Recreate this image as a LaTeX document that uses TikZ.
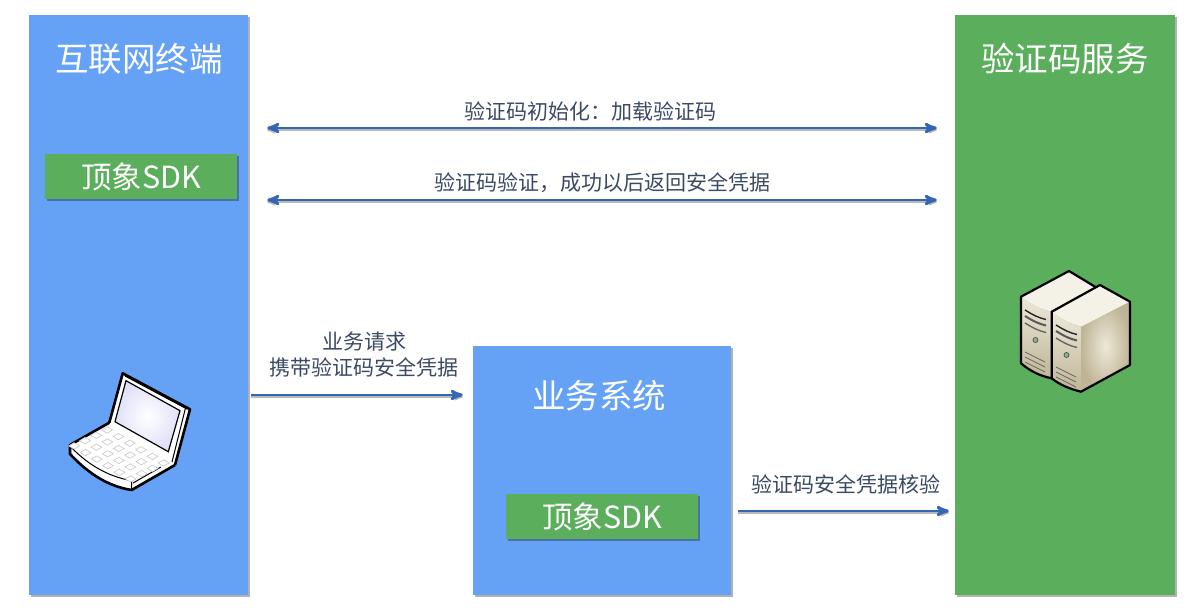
\documentclass[tikz,border=0pt]{standalone}
\usepackage{fontspec}
\setmainfont{Noto Sans CJK SC}
\usetikzlibrary{arrows,shadows}
\definecolor{panelblue}{HTML}{65A2F5}
\definecolor{panelgreen}{HTML}{5AAE5C}
\definecolor{flowblue}{HTML}{3566B6}
\definecolor{flowtext}{HTML}{3B4A63}
\definecolor{casetop}{HTML}{F4F1E7}
\definecolor{caselight}{HTML}{EDE8D9}
\definecolor{casedark}{HTML}{BFB596}
\tikzset{
  panel/.style = {rectangle, inner sep=0pt, general shadow={fill=black,
    shadow xshift=1.5pt, shadow yshift=-2pt, opacity=0.3}},
  bluepanel/.style = {panel, fill=panelblue},
  greenpanel/.style = {panel, fill=panelgreen},
  sdk/.style = {panel, fill=panelgreen, text=white, font=\fontsize{30.5}{30.5}\selectfont,
    minimum width=192pt, minimum height=45pt},% green box with white text
  heading/.style = {text=white, inner sep=0pt, font=\fontsize{33.5}{33.5}\selectfont},
  note/.style = {text=flowtext, inner sep=0pt, align=center,
    font=\fontsize{21}{26}\selectfont},
  flow/.style = {->,>=stealth', draw=flowblue, line width=2.9pt,
    preaction={draw=black!28, line width=1.8pt, transform canvas={yshift=-2pt}}},
  biflow/.style = {flow, <->},
  keycap/.style = {fill=white, draw=black!22, line width=0.6pt},
  outline/.style = {draw=black, line width=2pt, line join=round}
}
\begin{document}
\begin{tikzpicture}[x=1pt,y=-1pt]
\useasboundingbox (0,0) rectangle (1187,610);
% panels
\node [bluepanel, minimum width=219pt, minimum height=580pt] (terminal) at (138.5,305) {};
\node [greenpanel, minimum width=220pt, minimum height=580pt] (service) at (1065,305) {};
\node [bluepanel, minimum width=258pt, minimum height=249pt] (business) at (602,470.5) {};
\node [heading] (terminaltitle) at (139,59) {互联网终端};
\node [heading] (servicetitle) at (1065,59) {验证码服务};
\node [heading] (businesstitle) at (599,396) {业务系统};
\node [sdk] (sdkterminal) at (141,176.5) {顶象SDK};
\node [sdk] (sdkbusiness) at (602,516.5) {顶象SDK};
% arrows
\coordinate (inity) at (0,128);
\coordinate (checky) at (0,200);
\coordinate (requesty) at (0,395);
\coordinate (verifyy) at (0,511);
\draw [biflow, shorten <=19pt, shorten >=18pt] (terminal.east |- inity) -- (service.west |- inity);
\draw [biflow, shorten <=19pt, shorten >=18pt] (terminal.east |- checky) -- (service.west |- checky);
\draw [flow, shorten <=3pt, shorten >=10pt] (terminal.east |- requesty) -- (business.west |- requesty);
\draw [flow, shorten <=7pt, shorten >=6pt] (business.east |- verifyy) -- (service.west |- verifyy);
\node [note] (initnote) at (590,111) {验证码初始化^^^^ff1a加载验证码};
\node [note] (checknote) at (602,183) {验证码验证^^^^ff0c成功以后返回安全凭据};
\node [note] (requestnote) at (364,355) {业务请求\\携带验证码安全凭据};
\node [note] (verifynote) at (846,484) {验证码安全凭据核验};
% laptop
\fill [white] (70,445) -- (109.3,422.7) -- (122.7,373.3) -- (190,409.3) -- (175,465) -- (131.7,490)
  .. controls (105,486) and (85,470) .. (70,454) -- cycle;
\draw [outline, line width=2.6pt] (109.3,422.7) -- (122.7,373.3) -- (190,409.3) -- (175,465);
\draw [outline, line width=2.6pt] (109.3,422.7) -- (70,445) -- (70,454)
  .. controls (85,470) and (105,486) .. (131.7,490) -- (175,465);
\draw [black, line width=1pt] (70,446) .. controls (85,462) and (105,476) .. (131.7,480.7)
  -- (131.7,490);
\draw [black, line width=1pt] (133,483) -- (161,467);
\draw [black, line width=1pt] (125,376) -- (187,409);
\draw [black, line width=1pt] (185.5,408) -- (172,462);
\shade [inner color=white, outer color=black!25!blue!12!white, draw=black, line width=1.2pt]
  (126,380.7) -- (180,410.7) -- (168.3,451.7) -- (115,421.7) -- cycle;
\foreach \row in {0,1,2,3} {
  \foreach \col in {0,...,5} {
    \pgfmathsetmacro{\kx}{106.7+11.3*\col-11*\row}
    \pgfmathsetmacro{\ky}{430+6.6*\col+5.3*\row}
    \draw [keycap] (\kx-5,\ky) -- ++(5.4,-3.2) -- ++(5.4,3.2) -- ++(-5.4,3.2) -- cycle;
  }
}
% servers
\fill [casetop] (1021,296.7) -- (1069,271) -- (1095,286.7) -- (1051.7,311.7)
  .. controls (1040,309) and (1030,304) .. (1021,296.7) -- cycle;
\shade [top color=caselight, bottom color=casedark] (1021,296.7)
  .. controls (1030,304) and (1040,309) .. (1051.7,311.7) -- (1051.7,378.3)
  .. controls (1040,376) and (1030,371) .. (1021,363.3) -- cycle;
\draw [outline, line width=2.2pt] (1051.7,378.3) .. controls (1040,376) and (1030,371) .. (1021,363.3)
  -- (1021,296.7) -- (1069,271) -- (1095,286.7);
\fill [casetop] (1051.7,311.7) -- (1100,285) -- (1130,301.7) -- (1081.7,326.7)
  .. controls (1070,324) and (1060,319) .. (1051.7,311.7) -- cycle;
\shade [top color=caselight, bottom color=casedark] (1051.7,311.7)
  .. controls (1060,319) and (1070,324) .. (1081.7,326.7) -- (1081,391.7)
  .. controls (1070,389) and (1060,385) .. (1051.7,378.3) -- cycle;
\shade [inner color=caselight, outer color=casedark] (1081.7,326.7) -- (1130,301.7)
  -- (1130,365) -- (1081,391.7) -- cycle;
\draw [outline, line width=2.2pt] (1051.7,311.7) -- (1100,285) -- (1130,301.7) -- (1130,365) -- (1081,391.7)
  .. controls (1070,389) and (1060,385) .. (1051.7,378.3) -- cycle;
\foreach \sx/\sy in {1025/310,1056/325} {
  \begin{scope}[shift={(\sx,\sy)}]
    \draw [black!85, line width=1.4pt] (0,0) .. controls (8,5) and (14,8) .. (21,9.5);
    \draw [black!65, line width=2pt] (0,6) .. controls (8,11) and (14,14) .. (21,15.5);
    \draw [black!60, line width=1.4pt] (0,13) .. controls (8,18) and (14,21) .. (21,22.5);
    \filldraw [fill=green!35!black!45, draw=black!70, line width=0.7pt] (10.5,30) circle (2.5);
    \foreach \ly in {42,47,52} {
      \draw [black!60, line width=0.8pt] (0,\ly) -- (20,\ly+10);
    }
  \end{scope}
}
\end{tikzpicture}
\end{document}
